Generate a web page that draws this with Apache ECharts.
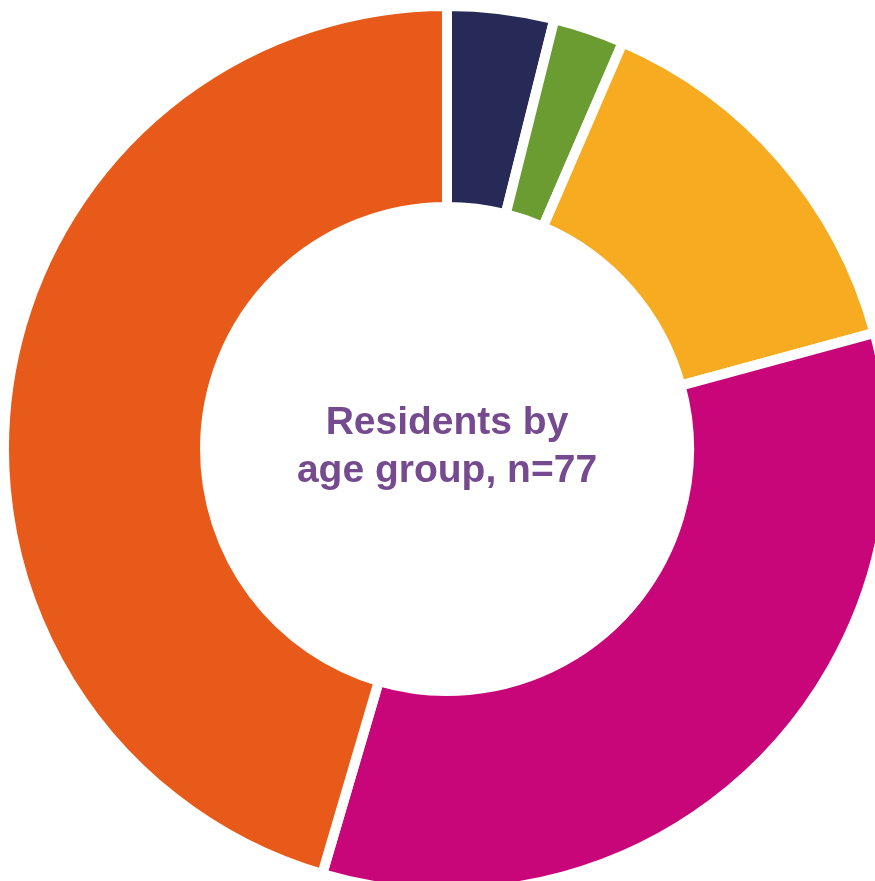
<!DOCTYPE html>
<html>
<head>
<meta charset="utf-8">
<script src="https://cdn.jsdelivr.net/npm/echarts@6/dist/echarts.min.js"></script>
<style>
html,body{margin:0;padding:0;background:#fff;}
#chart{width:875px;height:881px;}
</style>
</head>
<body>
<div id="chart"></div>
<script>
// Data (clockwise from 12 o'clock)
const categories = ['Age group 1', 'Age group 2', 'Age group 3', 'Age group 4', 'Age group 5'];
const values = [3, 2, 11, 26, 35];
const colors = ['#272a56', '#6a9c31', '#f7ab20', '#c90679', '#e85a19'];
const centerTitle = 'Residents by\nage group, n=77';

const chart = echarts.init(document.getElementById('chart'));
chart.setOption({
  animation: false,
  backgroundColor: '#ffffff',
  series: [{
    type: 'pie',
    center: [447, 449],
    radius: [242, 443],
    startAngle: 90,
    clockwise: true,
    label: { show: false },
    labelLine: { show: false },
    emphasis: { disabled: true },
    itemStyle: { borderColor: '#ffffff', borderWidth: 10 },
    data: categories.map((c, i) => ({ name: c, value: values[i], itemStyle: { color: colors[i] } }))
  }],
  graphic: [{
    type: 'text',
    x: 447,
    y: 447,
    style: {
      text: centerTitle,
      fill: '#764a8f',
      font: 'bold 39px "Liberation Sans", Arial, sans-serif',
      align: 'center',
      verticalAlign: 'middle',
      lineHeight: 48
    }
  }]
});
</script>
</body>
</html>
